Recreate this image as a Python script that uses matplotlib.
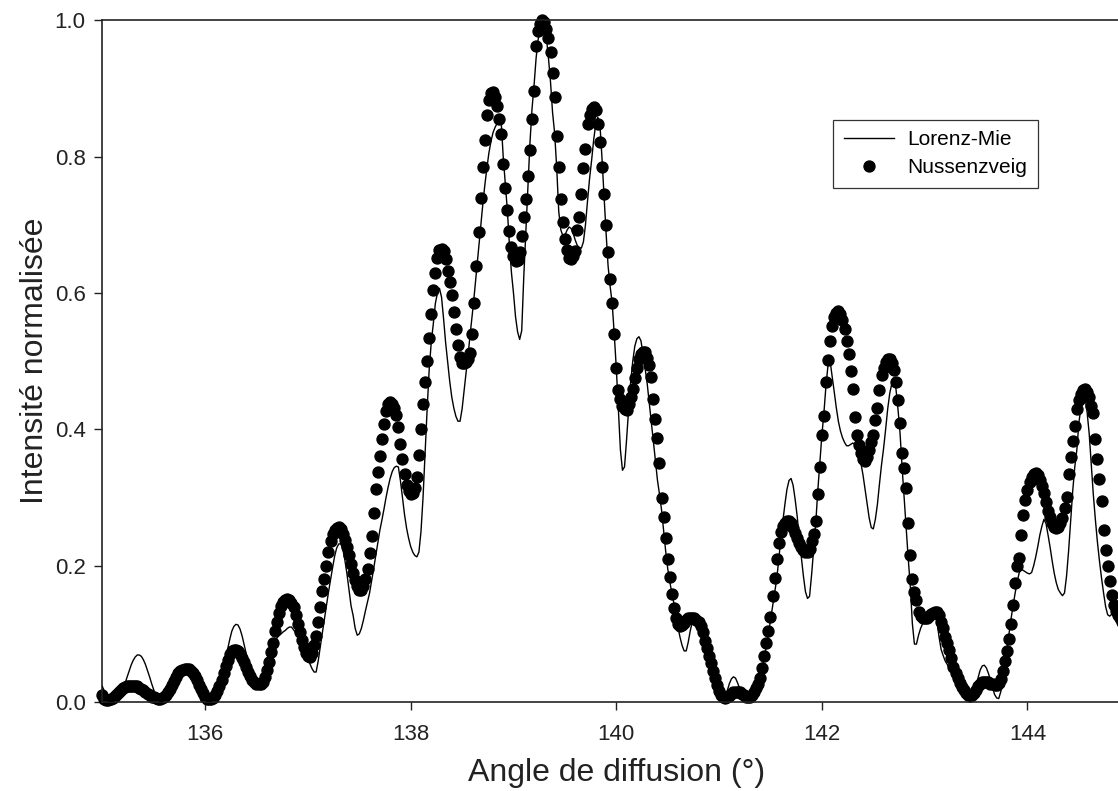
import numpy as np
import matplotlib
matplotlib.use("Agg")
import matplotlib.pyplot as plt

plt.rcParams['font.family'] = ['Liberation Sans', 'DejaVu Sans']

# scattering angle grid (degrees), one sample every 0.02 deg
angle_start = 135.0
angle_step = 0.02

# Lorenz-Mie intensity, normalised
lorenz_mie = [
    0.023, 0.016, 0.008, 0.002, 0.000, 0.001, 0.003, 0.006, 0.010, 0.015,
    0.020, 0.027, 0.036, 0.045, 0.054, 0.061, 0.066, 0.069, 0.069, 0.067,
    0.062, 0.055, 0.046, 0.037, 0.027, 0.018, 0.010, 0.004, 0.001, 0.001,
    0.003, 0.007, 0.012, 0.018, 0.024, 0.030, 0.035, 0.040, 0.044, 0.046,
    0.047, 0.047, 0.046, 0.045, 0.042, 0.038, 0.034, 0.029, 0.020, 0.011,
    0.004, 0.001, 0.000, 0.001, 0.004, 0.009, 0.016, 0.025, 0.036, 0.049,
    0.063, 0.078, 0.092, 0.104, 0.111, 0.114, 0.113, 0.107, 0.097, 0.084,
    0.071, 0.058, 0.046, 0.036, 0.028, 0.023, 0.021, 0.021, 0.025, 0.033,
    0.045, 0.058, 0.070, 0.080, 0.088, 0.094, 0.098, 0.100, 0.103, 0.105,
    0.108, 0.110, 0.110, 0.106, 0.102, 0.097, 0.092, 0.086, 0.079, 0.070,
    0.063, 0.056, 0.049, 0.044, 0.044, 0.060, 0.081, 0.101, 0.121, 0.141,
    0.161, 0.179, 0.197, 0.214, 0.226, 0.232, 0.232, 0.224, 0.208, 0.188,
    0.164, 0.141, 0.127, 0.108, 0.098, 0.100, 0.108, 0.120, 0.134, 0.147,
    0.160, 0.178, 0.196, 0.215, 0.235, 0.252, 0.267, 0.283, 0.300, 0.315,
    0.328, 0.338, 0.344, 0.346, 0.345, 0.325, 0.300, 0.275, 0.255, 0.240,
    0.228, 0.220, 0.215, 0.213, 0.220, 0.250, 0.300, 0.365, 0.430, 0.488,
    0.528, 0.555, 0.585, 0.600, 0.607, 0.594, 0.562, 0.527, 0.498, 0.470,
    0.447, 0.431, 0.419, 0.412, 0.412, 0.430, 0.458, 0.485, 0.512, 0.542,
    0.570, 0.600, 0.632, 0.665, 0.697, 0.728, 0.757, 0.782, 0.805, 0.822,
    0.835, 0.843, 0.849, 0.853, 0.852, 0.800, 0.760, 0.722, 0.672, 0.630,
    0.600, 0.565, 0.543, 0.532, 0.545, 0.624, 0.690, 0.755, 0.820, 0.870,
    0.905, 0.945, 0.972, 0.990, 0.999, 0.998, 0.975, 0.945, 0.910, 0.865,
    0.835, 0.785, 0.720, 0.693, 0.684, 0.685, 0.692, 0.697, 0.695, 0.688,
    0.678, 0.670, 0.667, 0.666, 0.675, 0.700, 0.735, 0.768, 0.795, 0.825,
    0.848, 0.858, 0.850, 0.800, 0.745, 0.690, 0.640, 0.610, 0.585, 0.540,
    0.490, 0.430, 0.370, 0.340, 0.345, 0.385, 0.430, 0.470, 0.500, 0.522,
    0.533, 0.536, 0.530, 0.510, 0.490, 0.468, 0.440, 0.412, 0.384, 0.355,
    0.326, 0.305, 0.282, 0.252, 0.222, 0.196, 0.177, 0.160, 0.145, 0.128,
    0.110, 0.095, 0.083, 0.075, 0.075, 0.088, 0.105, 0.118, 0.124, 0.123,
    0.118, 0.110, 0.100, 0.088, 0.076, 0.064, 0.052, 0.040, 0.029, 0.018,
    0.009, 0.003, 0.003, 0.008, 0.017, 0.027, 0.034, 0.037, 0.035, 0.028,
    0.020, 0.012, 0.006, 0.004, 0.005, 0.008, 0.012, 0.018, 0.024, 0.031,
    0.040, 0.052, 0.066, 0.082, 0.100, 0.120, 0.140, 0.160, 0.180, 0.208,
    0.240, 0.265, 0.290, 0.312, 0.325, 0.328, 0.318, 0.297, 0.272, 0.240,
    0.212, 0.185, 0.162, 0.152, 0.155, 0.187, 0.225, 0.262, 0.310, 0.350,
    0.392, 0.425, 0.465, 0.495, 0.500, 0.478, 0.455, 0.432, 0.412, 0.398,
    0.388, 0.381, 0.376, 0.376, 0.378, 0.380, 0.378, 0.372, 0.364, 0.350,
    0.333, 0.312, 0.290, 0.270, 0.256, 0.254, 0.268, 0.290, 0.320, 0.348,
    0.372, 0.400, 0.430, 0.453, 0.467, 0.470, 0.460, 0.430, 0.395, 0.345,
    0.300, 0.255, 0.210, 0.170, 0.115, 0.085, 0.085, 0.098, 0.108, 0.115,
    0.121, 0.126, 0.130, 0.133, 0.135, 0.130, 0.118, 0.095, 0.077, 0.068,
    0.060, 0.055, 0.049, 0.045, 0.041, 0.037, 0.031, 0.025, 0.019, 0.014,
    0.008, 0.003, 0.001, 0.004, 0.012, 0.024, 0.036, 0.047, 0.053, 0.054,
    0.050, 0.042, 0.032, 0.021, 0.011, 0.006, 0.005, 0.015, 0.032, 0.055,
    0.078, 0.100, 0.122, 0.142, 0.160, 0.177, 0.190, 0.195, 0.193, 0.191,
    0.189, 0.188, 0.190, 0.200, 0.213, 0.228, 0.245, 0.258, 0.268, 0.262,
    0.245, 0.227, 0.207, 0.189, 0.175, 0.165, 0.160, 0.156, 0.160, 0.185,
    0.222, 0.265, 0.310, 0.345, 0.370, 0.410, 0.432, 0.446, 0.446, 0.425,
    0.394, 0.350, 0.305, 0.268, 0.235, 0.207, 0.182, 0.160, 0.140, 0.128,
    0.126, 0.129, 0.134, 0.138, 0.140, 0.140, 0.138, 0.135, 0.130, 0.126,
    0.122,
]

# Nussenzveig (complex angular momentum) intensity, normalised
nussenzveig = [
    0.010, 0.005, 0.003, 0.003, 0.004, 0.006, 0.009, 0.012, 0.015, 0.018,
    0.020, 0.022, 0.023, 0.024, 0.024, 0.024, 0.024, 0.023, 0.021, 0.019,
    0.017, 0.015, 0.012, 0.010, 0.008, 0.007, 0.006, 0.005, 0.005, 0.006,
    0.007, 0.010, 0.014, 0.019, 0.025, 0.031, 0.037, 0.042, 0.045, 0.047,
    0.048, 0.048, 0.048, 0.046, 0.043, 0.038, 0.032, 0.025, 0.019, 0.013,
    0.008, 0.005, 0.004, 0.004, 0.006, 0.010, 0.016, 0.024, 0.033, 0.043,
    0.053, 0.062, 0.070, 0.075, 0.077, 0.077, 0.075, 0.071, 0.065, 0.058,
    0.051, 0.044, 0.038, 0.033, 0.029, 0.027, 0.026, 0.027, 0.030, 0.037,
    0.047, 0.059, 0.073, 0.086, 0.104, 0.118, 0.131, 0.141, 0.147, 0.150,
    0.151, 0.150, 0.146, 0.139, 0.128, 0.115, 0.103, 0.091, 0.080, 0.072,
    0.067, 0.066, 0.072, 0.084, 0.097, 0.118, 0.140, 0.163, 0.180, 0.199,
    0.220, 0.236, 0.246, 0.253, 0.256, 0.257, 0.254, 0.247, 0.238, 0.227,
    0.215, 0.203, 0.190, 0.179, 0.170, 0.165, 0.165, 0.170, 0.180, 0.195,
    0.218, 0.243, 0.278, 0.313, 0.337, 0.361, 0.386, 0.408, 0.427, 0.437,
    0.440, 0.438, 0.432, 0.421, 0.404, 0.379, 0.357, 0.334, 0.318, 0.309,
    0.305, 0.306, 0.314, 0.330, 0.362, 0.400, 0.438, 0.470, 0.500, 0.534,
    0.570, 0.605, 0.629, 0.651, 0.663, 0.665, 0.662, 0.650, 0.633, 0.617,
    0.597, 0.572, 0.548, 0.524, 0.506, 0.498, 0.497, 0.499, 0.503, 0.512,
    0.540, 0.585, 0.640, 0.690, 0.740, 0.785, 0.825, 0.862, 0.884, 0.893,
    0.895, 0.888, 0.874, 0.855, 0.834, 0.790, 0.754, 0.722, 0.691, 0.668,
    0.654, 0.647, 0.648, 0.660, 0.684, 0.712, 0.738, 0.772, 0.810, 0.855,
    0.896, 0.962, 0.984, 0.995, 1.000, 0.998, 0.988, 0.975, 0.954, 0.923,
    0.887, 0.830, 0.785, 0.738, 0.705, 0.680, 0.663, 0.652, 0.650, 0.655,
    0.662, 0.693, 0.712, 0.745, 0.783, 0.812, 0.848, 0.862, 0.870, 0.873,
    0.868, 0.848, 0.822, 0.785, 0.745, 0.700, 0.660, 0.620, 0.585, 0.540,
    0.490, 0.458, 0.444, 0.435, 0.430, 0.429, 0.437, 0.447, 0.460, 0.475,
    0.490, 0.504, 0.511, 0.513, 0.513, 0.505, 0.494, 0.477, 0.445, 0.415,
    0.388, 0.350, 0.300, 0.272, 0.240, 0.210, 0.183, 0.158, 0.138, 0.124,
    0.115, 0.112, 0.113, 0.116, 0.120, 0.123, 0.124, 0.124, 0.123, 0.121,
    0.118, 0.112, 0.102, 0.090, 0.079, 0.068, 0.057, 0.045, 0.035, 0.025,
    0.016, 0.010, 0.007, 0.006, 0.007, 0.009, 0.012, 0.014, 0.015, 0.015,
    0.014, 0.012, 0.010, 0.008, 0.007, 0.008, 0.010, 0.014, 0.020, 0.027,
    0.035, 0.050, 0.068, 0.086, 0.104, 0.125, 0.156, 0.182, 0.210, 0.233,
    0.249, 0.258, 0.263, 0.265, 0.265, 0.262, 0.256, 0.248, 0.240, 0.233,
    0.227, 0.223, 0.220, 0.220, 0.225, 0.236, 0.247, 0.265, 0.305, 0.345,
    0.392, 0.420, 0.470, 0.502, 0.530, 0.552, 0.565, 0.571, 0.573, 0.569,
    0.560, 0.548, 0.530, 0.510, 0.486, 0.460, 0.418, 0.392, 0.377, 0.365,
    0.356, 0.354, 0.360, 0.370, 0.382, 0.392, 0.414, 0.431, 0.458, 0.480,
    0.490, 0.499, 0.503, 0.504, 0.498, 0.487, 0.470, 0.443, 0.410, 0.365,
    0.343, 0.314, 0.262, 0.216, 0.180, 0.162, 0.150, 0.132, 0.126, 0.123,
    0.123, 0.124, 0.126, 0.129, 0.131, 0.132, 0.132, 0.128, 0.118, 0.108,
    0.096, 0.086, 0.076, 0.064, 0.052, 0.043, 0.035, 0.028, 0.022, 0.017,
    0.013, 0.011, 0.009, 0.010, 0.013, 0.018, 0.023, 0.027, 0.029, 0.030,
    0.030, 0.029, 0.027, 0.026, 0.025, 0.025, 0.028, 0.034, 0.045, 0.060,
    0.075, 0.092, 0.115, 0.142, 0.175, 0.199, 0.212, 0.245, 0.275, 0.296,
    0.311, 0.323, 0.330, 0.335, 0.336, 0.333, 0.326, 0.317, 0.306, 0.293,
    0.281, 0.271, 0.263, 0.257, 0.255, 0.257, 0.263, 0.270, 0.284, 0.301,
    0.335, 0.360, 0.383, 0.405, 0.430, 0.443, 0.452, 0.458, 0.460, 0.455,
    0.447, 0.435, 0.424, 0.386, 0.357, 0.327, 0.295, 0.252, 0.223, 0.199,
    0.177, 0.157, 0.142, 0.134, 0.128, 0.123, 0.118, 0.115, 0.113, 0.112,
    0.112,
]

x_ticks = [136, 138, 140, 142, 144]
y_ticks = [0.0, 0.2, 0.4, 0.6, 0.8, 1.0]

angle = angle_start + angle_step * np.arange(len(lorenz_mie))

fig = plt.figure(figsize=(11.18, 7.91), dpi=100)
# the frame runs past the right edge of the figure on purpose
ax = fig.add_axes([0.0915, 0.1125, 0.9195, 0.8616])

ax.plot(angle, lorenz_mie, color='black', lw=1.0, label='Lorenz-Mie', zorder=3)
ax.plot(angle, nussenzveig, linestyle='none', marker='o', ms=7.9,
        color='black', label='Nussenzveig', clip_on=False, zorder=2)

ax.set_xlim(135, 145)
ax.set_ylim(0, 1)
ax.set_xticks(x_ticks)
ax.set_yticks(y_ticks)
ax.set_yticklabels(['{:.1f}'.format(v) for v in y_ticks])

for side in ['left', 'bottom', 'top', 'right']:
    ax.spines[side].set_linewidth(1.2)
    ax.spines[side].set_color('#222222')

ax.tick_params(direction='out', length=6, width=1.0, labelsize=16,
               colors='#222222')
ax.tick_params(axis='y', pad=6)
ax.tick_params(axis='x', pad=10)

ax.set_xlabel('Angle de diffusion (°)', fontsize=23, color='#222222', labelpad=9)
ax.set_ylabel('Intensité normalisée', fontsize=23, color='#222222', labelpad=3)

leg = ax.legend(loc='upper left', bbox_to_anchor=(0.711, 0.854), fontsize=15,
                frameon=True, fancybox=False, borderaxespad=0,
                handlelength=2.4, handletextpad=0.67,
                borderpad=0.5, labelspacing=0.42)
leg.get_frame().set_edgecolor('black')
leg.get_frame().set_linewidth(0.9)

fig.savefig('out.png', dpi=100)
